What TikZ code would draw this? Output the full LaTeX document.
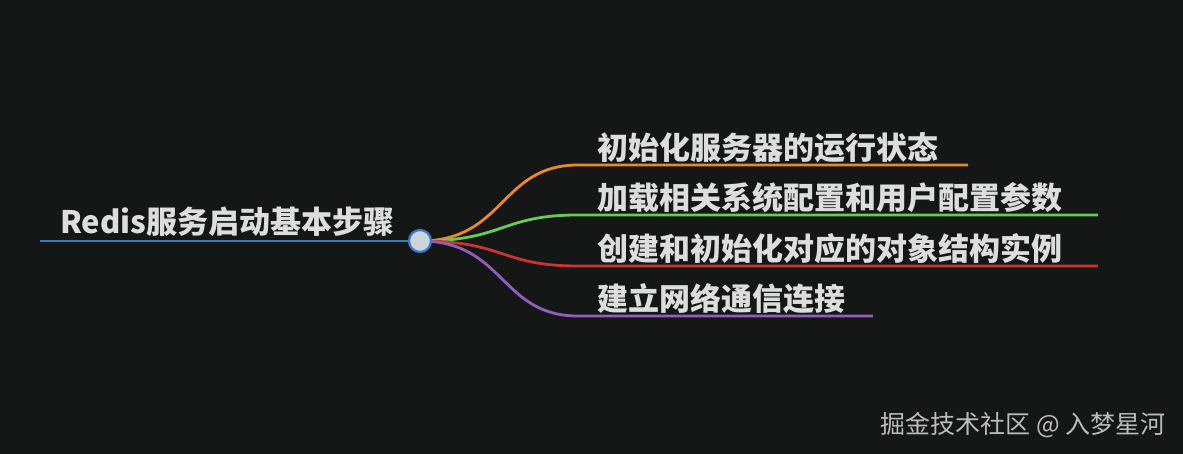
\documentclass[tikz,border=0pt]{standalone}
\usepackage{fontspec}
\setmainfont{Noto Sans CJK SC}
\definecolor{bg}{HTML}{151616}
\definecolor{txt}{HTML}{DDDDDD}
\definecolor{cblue}{HTML}{3A7BBF}
\definecolor{corange}{HTML}{E8892D}
\definecolor{cgreen}{HTML}{66CC55}
\definecolor{cred}{HTML}{CC3333}
\definecolor{cpurple}{HTML}{9060B8}
\begin{document}
\begin{tikzpicture}[x=1pt,y=-1pt,
  lbl/.style={text=txt,font=\fontsize{31}{34}\selectfont\bfseries,anchor=base west,inner sep=0},
  br/.style={line width=2.8pt}]
\fill[bg] (0,0) rectangle (1183,454);
\useasboundingbox (0,0) rectangle (1183,454);
\coordinate (c) at (420,241);
\draw[cblue,br] (40,241) -- (c);
\node[lbl] (root) at (60,234) {Redis服务启动基本步骤};
\coordinate (e1) at (578,165); \coordinate (f1) at (968,165);
\coordinate (e2) at (578,215); \coordinate (f2) at (1098,215);
\coordinate (e3) at (578,266); \coordinate (f3) at (1098,266);
\coordinate (e4) at (578,316); \coordinate (f4) at (873,316);
\draw[corange,br] (c) .. controls (505,241) and (500,165) .. (e1) -- (f1);
\draw[cgreen,br] (c) .. controls (505,241) and (500,215) .. (e2) -- (f2);
\draw[cred,br] (c) .. controls (505,241) and (500,266) .. (e3) -- (f3);
\draw[cpurple,br] (c) .. controls (505,241) and (500,316) .. (e4) -- (f4);
\node[circle,draw=cblue,line width=2.2pt,fill=txt!90!cblue,minimum size=22pt,inner sep=0] (dot) at (c) {};
\node[lbl] (t1) at (597,160) {初始化服务器的运行状态};
\node[lbl] (t2) at (597,210) {加载相关系统配置和用户配置参数};
\node[lbl] (t3) at (597,261) {创建和初始化对应的对象结构实例};
\node[lbl] (t4) at (597,311) {建立网络通信连接};
\node[text=txt!85!black,font=\fontsize{25}{28}\selectfont,anchor=base east,inner sep=0] (wm) at (1166,433) {掘金技术社区 @ 入梦星河};
\end{tikzpicture}
\end{document}
